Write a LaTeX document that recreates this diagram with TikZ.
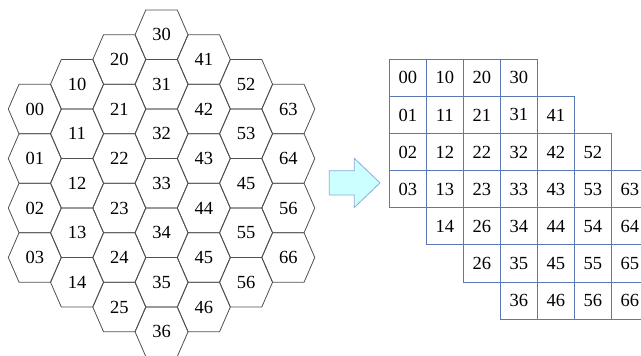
\documentclass[tikz,border=0pt]{standalone}
\usepackage{fontspec}
\setmainfont{Liberation Serif}
\definecolor{hexgray}{HTML}{505050}
\definecolor{tabblue}{HTML}{5A78B4}
\definecolor{arrowfill}{HTML}{CCFFFF}
\definecolor{arrowline}{HTML}{8AAAD8}
\tikzset{
  hexlabel/.style={inner sep=0pt, font=\fontsize{18.5}{21}\selectfont},
  hexline/.style={draw=hexgray, line width=0.8pt, line join=miter},
  tabcell/.style={draw=tabblue, line width=0.8pt, minimum width=37pt, minimum height=37.1pt,
    inner sep=0pt, font=\fontsize{18.5}{21}\selectfont},
  blockarrow/.style={fill=arrowfill, draw=arrowline, line width=0.8pt}
}
\newcommand\myhex[4]{% name, x, y, label
  \node[hexlabel] (#1) at (#2,#3) {#4};
  \draw[hexline] ([shift={(-26.5,0)}]#1.center) -- ++(10.75,-24.75) -- ++(31.5,0)
    -- ++(10.75,24.75) -- ++(-10.75,24.75) -- ++(-31.5,0) -- cycle;
}
\begin{document}
\begin{tikzpicture}[x=1pt,y=-1pt]
\useasboundingbox (0,0) rectangle (641,356);
\clip (0,0) rectangle (641,356);
% hexagon field
\foreach \c/\off/\labs in {0/1.5/{00,01,02,03},1/1.0/{10,11,12,13,14},2/0.5/{20,21,22,23,24,25},
  3/0/{30,31,32,33,34,35,36},4/0.5/{41,42,43,44,45,46},5/1.0/{52,53,45,55,56},6/1.5/{63,64,56,66}}{
  \foreach \l [count=\r from 0] in \labs {
    \pgfmathsetmacro\hx{34.8+42.25*\c}
    \pgfmathsetmacro\hy{34.75+49.5*(\off+\r)}
    \myhex{h\c-\r}{\hx}{\hy}{\l}
  }
}
% arrow
\draw[blockarrow] (329.3,170.7) -- (354.3,170.7) -- (354.3,158.3) -- (380,182.9)
  -- (354.3,207.5) -- (354.3,195) -- (329.3,195) -- cycle;
% table
\foreach \r/\cs/\labs in {0/0/{00,10,20,30},1/0/{01,11,21,31,41},2/0/{02,12,22,32,42,52},
  3/0/{03,13,23,33,43,53,63},4/1/{14,26,34,44,54,64},5/2/{26,35,45,55,65},6/3/{36,46,56,66}}{
  \foreach \l [count=\k from 0] in \labs {
    \pgfmathsetmacro\tx{407.8+37*(\cs+\k)}
    \pgfmathsetmacro\ty{77.85+37.1*\r}
    \node[tabcell] (t\r-\k) at (\tx,\ty) {\l};
  }
}
\end{tikzpicture}
\end{document}
